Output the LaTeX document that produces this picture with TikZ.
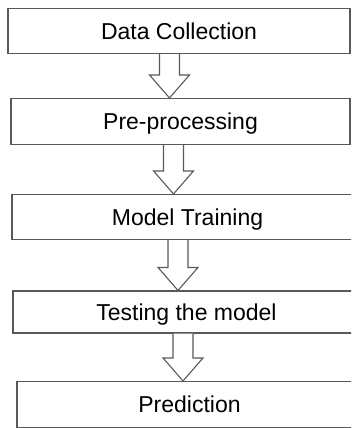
\documentclass[tikz,border=0pt]{standalone}
\usepackage{fontspec}
\setmainfont{Liberation Sans}
\usetikzlibrary{calc}

% hollow block arrow from the bottom of #1 to the top of #2, centred on x=#3
\newcommand{\flowarrow}[3]{%
  \draw[blockarrow] ($(#1.south -| #3,0)+(-10,0)$) -- ($(#2.north -| #3,0)+(-10,-23)$)
    -- ($(#2.north -| #3,0)+(-20,-23)$) -- (#2.north -| #3,0)
    -- ($(#2.north -| #3,0)+(20,-23)$) -- ($(#2.north -| #3,0)+(10,-23)$)
    -- ($(#1.south -| #3,0)+(10,0)$);}

\begin{document}
\begin{tikzpicture}[x=1pt,y=-1pt]
    \tikzstyle{stage}=[rectangle, draw=black!65, line width=1.1pt, fill=white, inner sep=0pt,
                       text height=16.5pt, text depth=0pt, font=\fontsize{23}{27}\selectfont]
    \tikzstyle{blockarrow}=[draw=black!65, line width=1.1pt, fill=white, line join=miter]
    \path[use as bounding box, clip] (0,0) rectangle (351,428);
    \node[stage, minimum width=342pt, minimum height=45pt] (collect) at (179,31) {Data Collection};
    \node[stage, minimum width=339pt, minimum height=46pt] (preproc) at (180.5,121.5) {Pre-processing};
    \node[stage, minimum width=351pt, minimum height=45pt] (train) at (187.5,217) {Model Training};
    \node[stage, minimum width=347pt, minimum height=42pt] (test) at (186.5,312) {Testing the model};
    \node[stage, minimum width=345pt, minimum height=46pt] (predict) at (189.5,404.5) {Prediction};
    \flowarrow{collect}{preproc}{169.5}
    \flowarrow{preproc}{train}{173.5}
    \flowarrow{train}{test}{178}
    \flowarrow{test}{predict}{183}
\end{tikzpicture}
\end{document}
